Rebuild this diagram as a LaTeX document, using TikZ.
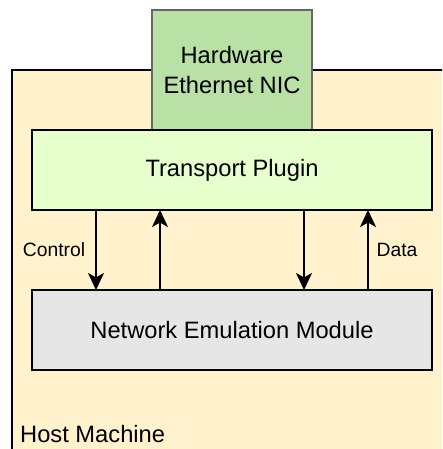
\documentclass[tikz,border=0pt]{standalone}
\usepackage{fontspec}
\setmainfont{Liberation Sans}
\usetikzlibrary{arrows.meta}
\definecolor{hostfill}{HTML}{FFF2CC}
\definecolor{nicfill}{HTML}{B9E0A5}
\definecolor{nicline}{HTML}{666666}
\definecolor{tpfill}{HTML}{E6FFCC}
\definecolor{nemfill}{HTML}{E6E6E6}
\tikzset{
  box/.style={draw=black, line width=2pt, inner sep=0pt, outer sep=0pt, align=center,
    font=\fontsize{23.7}{30}\selectfont},
  arr/.style={draw=black, line width=2pt, -{Stealth[length=17pt, width=16pt, inset=4.5pt]}},
  lbl/.style={font=\fontsize{19.3}{23}\selectfont, inner sep=0pt},
}
\begin{document}
\begin{tikzpicture}[x=1pt, y=-1pt]
\useasboundingbox (0,0) rectangle (442,449);
\begin{scope}
\clip (0,0) rectangle (442,449);
\node[box, fill=hostfill, anchor=north west, minimum width=450pt, minimum height=400pt] (host) at (12,70) {};
\end{scope}
\node[anchor=base west, inner sep=0pt, font=\fontsize{23.7}{30}\selectfont] (hostlbl) at (20,442) {Host Machine};
\node[box, fill=nicfill, draw=nicline, minimum width=160pt, minimum height=120pt] (nic) at (232,70) {Hardware\\Ethernet NIC};
\node[box, fill=tpfill, minimum width=400pt, minimum height=80pt] (tp) at (232,170) {Transport Plugin};
\node[box, fill=nemfill, minimum width=400pt, minimum height=80pt] (nem) at (232,330) {Network Emulation Module};
\coordinate (c1) at (96,0);
\coordinate (c2) at (160,0);
\coordinate (c3) at (304,0);
\coordinate (c4) at (368,0);
\draw[arr] (tp.south -| c1) -- (nem.north -| c1);
\draw[arr] (nem.north -| c2) -- (tp.south -| c2);
\draw[arr] (tp.south -| c3) -- (nem.north -| c3);
\draw[arr] (nem.north -| c4) -- (tp.south -| c4);
\node[lbl] (control) at (54,250) {Control};
\node[lbl] (data) at (397,250) {Data};
\end{tikzpicture}
\end{document}
